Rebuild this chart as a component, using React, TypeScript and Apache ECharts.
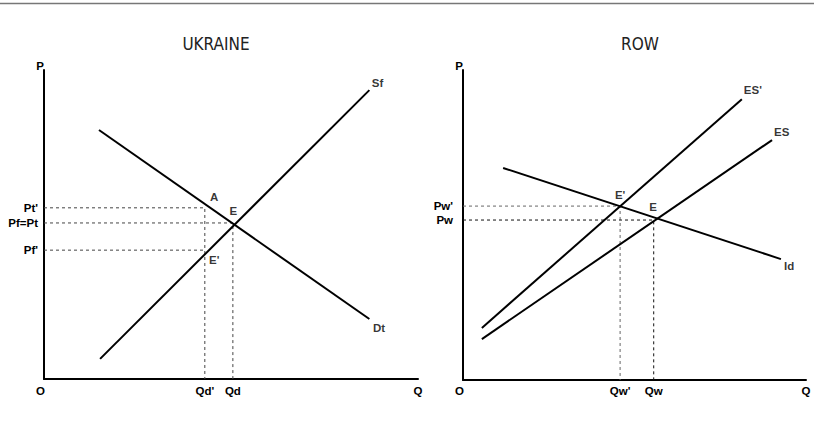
import { useEffect, useRef } from "react";
import * as echarts from "echarts";

// ---------- Data (abstract 0-100 Q/P units) ----------
// UKRAINE panel
const ukrSupply = [[15, 6.5], [87, 93.5]]; // Sf
const ukrDemand = [[14.7, 80.6], [87, 19.4]]; // Dt
const ukrPriceLabels = ["Pt'", "Pf=Pt", "Pf'"];
const ukrPriceValues = [55.4, 50.5, 41.7];
const ukrQtyLabels = ["Qd'", "Qd"];
const ukrQtyValues = [43, 50.5];
const ukrPointNames = ["A", "E", "E'", "Sf", "Dt"];
const ukrPointQ = [45.5, 50.6, 45.5, 89.2, 89.6];
const ukrPointP = [58.9, 54.4, 38.5, 95.7, 16.4];

// ROW panel
const rowExSupplyNew = [[5.5, 16.8], [81.3, 90.6]]; // ES'
const rowExSupply = [[5.5, 13.2], [90.1, 77.4]]; // ES
const rowImDemand = [[11.7, 68.4], [92.7, 39.0]]; // Id
const rowPriceLabels = ["Pw'", "Pw"];
const rowPriceValues = [56.1, 51.6];
const rowQtyLabels = ["Qw'", "Qw"];
const rowQtyValues = [45.8, 55.6];
const rowPointNames = ["E'", "E", "ES'", "ES", "Id"];
const rowPointQ = [45.8, 55.4, 84.5, 92.9, 95.1];
const rowPointP = [59.7, 55.7, 93.5, 80, 36.8];

const panelTitles = ["UKRAINE", "ROW"];
const axisMax = 100;

// ---------- Styling ----------
const FONT = '"Liberation Sans", Arial, Helvetica, sans-serif';
const TITLE_FONT = '"Liberation Sans Narrow", "DejaVu Sans Condensed", "Liberation Sans", sans-serif';
const LABEL_SIZE = 11.5;

function lookup(values: number[], labels: string[], v: number): string {
  for (let i = 0; i < values.length; i++) {
    if (Math.abs(values[i] - v) < 1e-6) return labels[i];
  }
  return "";
}

function makeXAxis(gridIndex: number, qVals: number[], qLabels: string[], margin: number) {
  return {
    type: "value",
    gridIndex,
    min: 0,
    max: axisMax,
    splitLine: { show: false },
    axisTick: { show: false },
    axisLine: { show: true, onZero: false, lineStyle: { color: "#000", width: 2 } },
    axisLabel: {
      customValues: [0, ...qVals, axisMax],
      margin,
      color: "#000",
      fontFamily: FONT,
      fontWeight: "bold",
      fontSize: LABEL_SIZE,
      formatter: (v: number) => {
        if (v === 0) return "{o|O}";
        if (v === axisMax) return "Q";
        return lookup(qVals, qLabels, v);
      },
      rich: {
        o: {
          padding: [0, 7, 0, 0],
          color: "#000",
          fontFamily: FONT,
          fontWeight: "bold",
          fontSize: LABEL_SIZE,
        },
      },
    },
  };
}

function makeYAxis(gridIndex: number, pVals: number[], pLabels: string[], margin: number) {
  return {
    type: "value",
    gridIndex,
    min: 0,
    max: axisMax,
    name: "P",
    nameLocation: "end",
    nameGap: -2,
    nameTextStyle: {
      color: "#000",
      fontFamily: FONT,
      fontWeight: "bold",
      fontSize: LABEL_SIZE,
      padding: [0, 8, 0, 0],
    },
    splitLine: { show: false },
    axisTick: { show: false },
    axisLine: { show: true, onZero: false, lineStyle: { color: "#000", width: 2 } },
    axisLabel: {
      customValues: pVals,
      margin,
      color: "#000",
      fontFamily: FONT,
      fontWeight: "bold",
      fontSize: LABEL_SIZE,
      formatter: (v: number) => lookup(pVals, pLabels, v),
    },
  };
}

function curve(idx: number, data: number[][]) {
  return {
    type: "line",
    xAxisIndex: idx,
    yAxisIndex: idx,
    data,
    symbol: "none",
    silent: true,
    z: 3,
    lineStyle: { color: "#000", width: 2 },
  };
}

function dashed(idx: number, data: number[][], color: string) {
  return {
    type: "line",
    xAxisIndex: idx,
    yAxisIndex: idx,
    data,
    symbol: "none",
    silent: true,
    z: 2,
    lineStyle: { color, width: 1, type: [3, 3] },
  };
}

function pointLabels(idx: number, names: string[], qs: number[], ps: number[]) {
  return {
    type: "scatter",
    xAxisIndex: idx,
    yAxisIndex: idx,
    symbolSize: 1,
    silent: true,
    z: 4,
    itemStyle: { color: "rgba(0,0,0,0)" },
    data: names.map((n, i) => ({ name: n, value: [qs[i], ps[i]] })),
    label: {
      show: true,
      position: "inside",
      formatter: "{b}",
      color: "#000",
      fontFamily: FONT,
      fontWeight: "bold",
      fontSize: LABEL_SIZE,
    },
  };
}

export default function App() {
  const ref = useRef<HTMLDivElement>(null);

  useEffect(() => {
    if (!ref.current) return;
    const chart = echarts.init(ref.current, null, { renderer: "svg" });

    const option = {
      animation: false,
      backgroundColor: "#fff",
      grid: [
        { left: 44, top: 70, width: 374, height: 309 },
        { left: 463, top: 70, width: 343, height: 310 },
      ],
      xAxis: [
        makeXAxis(0, ukrQtyValues, ukrQtyLabels, 6),
        makeXAxis(1, rowQtyValues, rowQtyLabels, 5),
      ],
      yAxis: [
        makeYAxis(0, ukrPriceValues, ukrPriceLabels, 6),
        makeYAxis(1, rowPriceValues, rowPriceLabels, 10),
      ],
      graphic: [
        {
          type: "line",
          shape: { x1: 0, y1: 3.5, x2: 814, y2: 3.5 },
          style: { stroke: "#777", lineWidth: 1.5 },
          silent: true,
        },
        {
          type: "text",
          x: 216,
          y: 44,
          style: {
            text: panelTitles[0],
            align: "center",
            verticalAlign: "middle",
            fontFamily: TITLE_FONT,
            fontSize: 17,
            fill: "#222",
          },
        },
        {
          type: "text",
          x: 640,
          y: 44,
          style: {
            text: panelTitles[1],
            align: "center",
            verticalAlign: "middle",
            fontFamily: TITLE_FONT,
            fontSize: 17,
            fill: "#222",
          },
        },
      ],
      series: [
        // UKRAINE
        dashed(0, [[0, ukrPriceValues[0]], [ukrQtyValues[0], ukrPriceValues[0]], [ukrQtyValues[0], 0]], "#444"),
        dashed(0, [[0, ukrPriceValues[1]], [ukrQtyValues[1], ukrPriceValues[1]], [ukrQtyValues[1], 0]], "#444"),
        dashed(0, [[0, ukrPriceValues[2]], [ukrQtyValues[0], ukrPriceValues[2]]], "#444"),
        curve(0, ukrSupply),
        curve(0, ukrDemand),
        pointLabels(0, ukrPointNames, ukrPointQ, ukrPointP),
        // ROW
        dashed(1, [[0, rowPriceValues[0]], [rowQtyValues[0], rowPriceValues[0]], [rowQtyValues[0], 0]], "#666"),
        dashed(1, [[0, rowPriceValues[1]], [rowQtyValues[1], rowPriceValues[1]], [rowQtyValues[1], 0]], "#111"),
        curve(1, rowExSupplyNew),
        curve(1, rowExSupply),
        curve(1, rowImDemand),
        pointLabels(1, rowPointNames, rowPointQ, rowPointP),
      ],
    };

    chart.setOption(option as any);
    return () => chart.dispose();
  }, []);

  return (
    <div
      ref={ref}
      style={{ position: "absolute", left: 0, top: 0, width: 814, height: 422, background: "#fff" }}
    />
  );
}
